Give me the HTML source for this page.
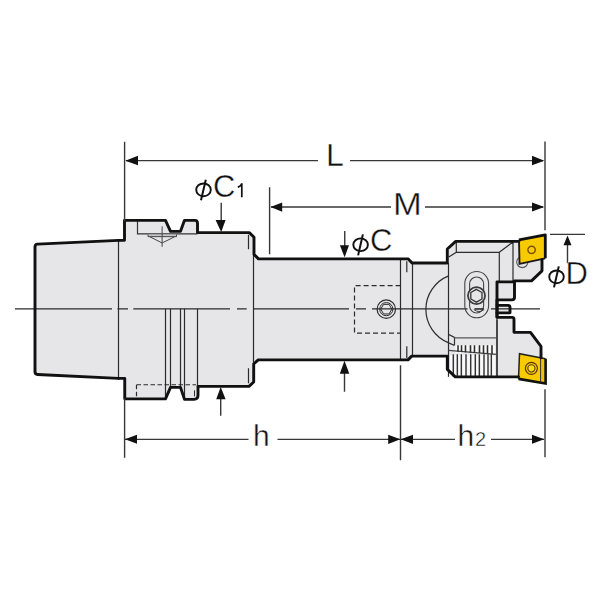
<!DOCTYPE html>
<html><head><meta charset="utf-8">
<style>
html,body{margin:0;padding:0;background:#fff;width:600px;height:600px;overflow:hidden}
svg{display:block}
text{font-family:"Liberation Sans",sans-serif;fill:#111;stroke:#fff;stroke-width:0.4}
</style></head>
<body>
<svg width="600" height="600" viewBox="0 0 600 600">
<g transform="translate(0 0.35)">
<!-- ===== FILLS ===== -->
<g fill="#e6e6e9" stroke="none">
  <polygon points="35,244 118.5,240 118.5,378 35,374"/>
  <polygon points="118.5,240 124.5,240 124.5,220 165.5,220 170.5,231 180.5,231 184.5,220 195,220 197.5,223 197.5,232.3 249.5,232.3 254,237 254,254 258.5,258.5 408,258.5 412,262.7 447.3,262.7 447.3,248.7 455.7,241 519,241 519,263.5 545,258 542,259 542,270.5 531.5,280.5 514.5,281.5 514.5,297 512,299.5 497,299.5 497,317 512,317 514,319 514,332 530.5,332 541,346 541.5,357.5 519.5,353.3 518.5,376.5 455.3,376.5 447.3,369 447.3,355.8 411.7,355.8 408,359.5 258.2,359.5 253.7,363.7 253.7,381.7 249,386 198,386 198,399 184.5,399 180.5,387 170.5,387 165.5,398.5 124.75,398.5 124.75,378 118.5,378"/>
</g>
<!-- slot light bands -->
<g fill="#fdfdfd">
  <rect x="497" y="300" width="14" height="17"/>
</g>
<g fill="#e8e8ea"><rect x="497" y="304" width="13" height="9"/></g>
<!-- teeth white stripes -->
<g fill="#fbfbfb"><rect x="455.4" y="345" width="2.2" height="8"/><rect x="458.9" y="345" width="2.2" height="8"/><rect x="462.4" y="345" width="2.2" height="8"/><rect x="466.4" y="345" width="2.2" height="8"/><rect x="471.4" y="345" width="2.2" height="8"/><rect x="475.4" y="345" width="2.2" height="8"/><rect x="480.4" y="345" width="2.2" height="8"/><rect x="484.4" y="345" width="2.2" height="8"/><rect x="488.4" y="345" width="2.2" height="8"/><rect x="492.9" y="345" width="2.2" height="8"/></g>
<g fill="#fafafa">
  <rect x="450" y="355" width="2.2" height="21"/><rect x="454.6" y="355" width="2.2" height="21"/><rect x="458.6" y="355" width="2.2" height="21"/><rect x="462.8" y="355" width="2.2" height="21"/><rect x="467.4" y="355" width="2.2" height="21"/><rect x="472" y="355" width="2.2" height="21"/><rect x="476.4" y="355" width="2.2" height="21"/><rect x="480.8" y="355" width="2.2" height="21"/><rect x="485.2" y="355" width="2.2" height="21"/><rect x="489.2" y="355" width="1.6" height="21"/><rect x="492.6" y="355" width="2.2" height="21"/>
</g>

<!-- ===== THIN LINES ===== -->
<g stroke="#2b2b2b" stroke-width="1.2" fill="none">
  <!-- taper right edge -->
  <line x1="118.5" y1="240" x2="118.5" y2="378"/>
  <!-- centerline -->
  <path d="M15,308.5H112 M117.5,308.5H128 M133.3,308.5H230 M237,308.5H246.7 M253.3,308.5H349 M356,308.5H366 M372,308.5H467.5 M490.9,308.5H540"/>
  <!-- key slot -->
  <path d="M137.5,220V233.5H197.5" stroke="#333"/>
  <path d="M148,234.2V236.3H176.5V234.2" fill="#c4c4c8" stroke="#444" stroke-width="1"/>
  <path d="M150,236.5L162.1,242.6L174.5,236.5 M162.1,226V246.5" stroke="#444" stroke-width="1"/>
  <!-- groove lines (lower half) -->
  <path d="M165.5,308.5V398 M170.5,308.5V387 M180.5,308.5V387 M184.5,308.5V399 M197.5,308.5V386"/>
  <path d="M194.5,390V396" stroke-width="1"/>
  <!-- hidden dashed -->
  <path d="M136.5,384.4H196 M136.5,384.4V398" stroke-dasharray="4.5,2.5"/>
  <!-- body right edges -->
  <path d="M248.5,234.5V248.8 M248.5,368V383 M253.5,254V363.7"/>
  <!-- shank collar -->
  <path d="M400.5,258.5V359.5 M412.5,262.7V355.8 M406.8,261V272 M406.8,346V357.7"/>
  <!-- dashed rect -->
  <path d="M400.6,285.3H354.5V332.7H400.6" stroke-dasharray="5,3"/>
  <!-- shank screw -->
  <circle cx="386.3" cy="308.8" r="9.2"/>
  <circle cx="386.3" cy="308.8" r="6.6" stroke-width="1"/>
  <polygon points="380.8,308.8 383.5,304 389.1,304 391.8,308.8 389.1,313.6 383.5,313.6" stroke-width="1"/>
  <!-- cutter arc -->
  <path d="M448.7,275.5A36,36 0 0 0 448.7,342.5"/>
  <!-- cutter left edge -->
  <path d="M448.5,262.7V376.5"/>
  <!-- top bevel -->
  <path d="M456.3,241V252H499.3 M448.7,256.7L456.3,252 M499.3,252L512.5,242 M513,242V281.5 M499.3,252V281.5 M497,281.5H514.5"/>
  <!-- oval slot -->
  <rect x="464.8" y="271.2" width="23.8" height="46.2" rx="11.9" ry="11.9" stroke="#444" stroke-width="1.1"/>
  <rect x="469.6" y="276.6" width="14" height="36" rx="7" ry="7" stroke="#444" stroke-width="1.1"/>
  <circle cx="476.5" cy="295.3" r="8.5" fill="#e6e6e9" stroke="#3a3a3a" stroke-width="1.8"/>
  <polygon points="476.4,289 482,292.2 482,298.6 476.4,301.8 470.8,298.6 470.8,292.2" stroke="#333" stroke-width="1.3"/>
  <path d="M474.5,308.6H483.8" stroke-width="1.6"/><path d="M473.8,309.2Q479,313.2 484.2,309.2" stroke="#444" stroke-width="1"/>
  <!-- lower bevel -->
  <path d="M448.5,334L454.5,337V345 M448.5,342.5L454.5,345" stroke="#333" stroke-width="1.2"/>
  <path d="M454.5,337.5H496" stroke="#555" stroke-width="1.4"/>
  <path d="M448.5,350L496,354" stroke="#444" stroke-width="1.2"/>
  <!-- upper teeth -->
  <path d="M458,345V351.3 M461.5,345V351.5 M465.5,345V351.9 M470.5,345V352.3 M474.5,345V352.6 M479.5,345V353 M483.5,345V353.3 M487.5,345V353.6 M492,345V354" stroke-width="1.5"/>
  <!-- lower teeth -->
  <path d="M453.3,354V376.5 M457.3,354V376.5 M461.3,354V376.5 M466,354V376.5 M470.7,354V376.5 M475.3,354V376.5 M479.3,354V376.5 M484,354V376.5 M488,354V376.5 M491.3,354V376.5" stroke-width="1.3"/>
  <path d="M497,319V376.5" stroke-width="1.7"/>
</g>

<!-- ===== INSERTS ===== -->
<g>
  <circle cx="522.3" cy="261.7" r="5.6" fill="none" stroke="#555" stroke-width="1.1"/>
  <polygon points="519,239.5 545.3,234.5 545.3,258 519.5,263.5" fill="#f8ca00"/>
  <path d="M519,239.5L545.3,234.5V258" fill="none" stroke="#111" stroke-width="2.8" stroke-linejoin="round"/>
  <path d="M545.3,258L519.5,263.5L519,239.5" fill="none" stroke="#1a1a1a" stroke-width="1.9"/>
  <circle cx="531.6" cy="249.5" r="3.7" fill="none" stroke="#7d5208" stroke-width="1.5"/>
  

  <polygon points="519.5,353.3 545.6,358.3 545.6,383.1 518.5,378.5" fill="#f8ca00"/>
  <rect x="540.6" y="358.5" width="4.5" height="24.5" fill="#f0c208"/>
  <path d="M545.6,358.3V383.1L518.5,378.5" fill="none" stroke="#111" stroke-width="2.6"/>
  <path d="M518.5,378.5L519.5,353.3L545.6,358.3" fill="none" stroke="#222" stroke-width="1.5"/>
  <path d="M540.6,358V382" stroke="#333" stroke-width="1"/>
  <circle cx="531.4" cy="368" r="6" fill="none" stroke="#5a3a10" stroke-width="1.2"/>
  <circle cx="531.4" cy="368" r="3.6" fill="#fbdc20" stroke="#5a3a10" stroke-width="1.1"/>
</g>

<!-- ===== THICK OUTLINES ===== -->
<g stroke="#111" stroke-width="2.9" fill="none" stroke-linejoin="round" stroke-linecap="round">
  <path d="M118.5,240L37.5,243.8Q35,244 35,246.5V371.5Q35,374 37.5,374.1L118.5,378"/>
  <path d="M118.5,240H124.5V220H165.5L170.5,231H180.5L184.5,220H195Q197.5,220 197.5,223V232.3H249.5L254,237V254L258.5,258.5H408L412,262.7H447.3V248.7L455.7,241H519"/>
  <path d="M542,259V270.5L531.5,280.5H514.5V297Q514.5,299.5 512,299.5H497V317H512Q514,317 514,319V332H530.5L541,346V357.5"/>
  <path d="M497,317V281.5H514.5"/>
  <path d="M497,305H508Q510,305 510,307V312.5H497"/>
  <path d="M518.5,376.5H455.3L447.3,369V355.8H411.7L408,359.5H258.2L253.7,363.7V381.7L249,386H198V395Q198,399 194,399H184.5L180.5,387H170.5L165.5,398.5H124.75V378H118.5"/>
</g>

<!-- ===== DIMENSIONS ===== -->
<g stroke="#383838" stroke-width="1.4" fill="none">
  <path d="M124.6,141.5V221 M124.6,398V457.5 M545,141.2V230 M545,389V457 M269.6,187V254 M400.5,365V460"/>
  <path d="M126,160.3H318 M350,160.3H543"/>
  <path d="M271,206.6H391 M425,206.6H543"/>
  <path d="M221.2,202.5V221 M220.7,398V415.5"/>
  <path d="M344.75,230.6V246 M344.5,372V391.5"/>
  <path d="M550,234H585 M567.5,244V263"/>
  <path d="M125,439H248.5 M277.5,439H400 M401,439H455 M491,439H544"/>
</g>
<g fill="#111" stroke="none">
  <polygon points="125.3,160.3 138,155.5 138,165"/>
  <polygon points="544.3,160.3 532,155.5 532,165"/>
  <polygon points="270.5,206.6 282.2,202.2 282.2,211.3"/>
  <polygon points="544.3,206.6 532,202.1 532,211.1"/>
  <polygon points="221.2,231.6 215.6,219.6 225.6,219.6"/>
  <polygon points="220.7,386.6 216.2,399 225.6,399"/>
  <polygon points="344.6,257 339.9,245 349,245"/>
  <polygon points="344.5,360.5 339.8,373.5 349.3,373.5"/>
  <polygon points="567.5,235.2 563.5,245 571.5,245"/>
  <polygon points="124.9,439 137,434.5 137,443.5"/>
  <polygon points="400.3,439 388.2,434.5 388.2,443.6"/>
  <polygon points="400.7,439 413,434.5 413,443.6"/>
  <polygon points="544.3,439 532,434.5 532,443.5"/>
</g>

<!-- ===== TEXT ===== -->
<g>
  <text x="326" y="165.6" font-size="32">L</text>
  <text x="393" y="215" font-size="32" transform="translate(393 0) scale(1.08 1) translate(-393 0)">M</text>
  <text x="213" y="197" font-size="31">C</text>
  
  <text x="370" y="251" font-size="31">C</text>
  <text x="565.5" y="283.5" font-size="31">D</text>
  <text x="253" y="445.5" font-size="30">h</text>
  <text x="457.6" y="446" font-size="30">h</text>
  <text x="475" y="446" font-size="20">2</text>
</g>
<g stroke="#111" fill="none">
  <ellipse cx="203.5" cy="189.5" rx="7.3" ry="6.4" stroke-width="1.9"/>
  <path d="M205.8,179.5L201,200" stroke-width="2"/>
  <path d="M241.8,183V196.8 M237.8,186.8Q241.2,185.8 241.8,183" stroke-width="1.7"/>
  <ellipse cx="360.6" cy="244.4" rx="7.3" ry="6.4" stroke-width="1.9"/>
  <path d="M362.9,234L358.1,255" stroke-width="2"/>
  <ellipse cx="556.5" cy="276.5" rx="7.3" ry="6.4" stroke-width="1.9"/>
  <path d="M558.8,266L554,287" stroke-width="2"/>
</g>
</g>
</svg>
</body></html>
